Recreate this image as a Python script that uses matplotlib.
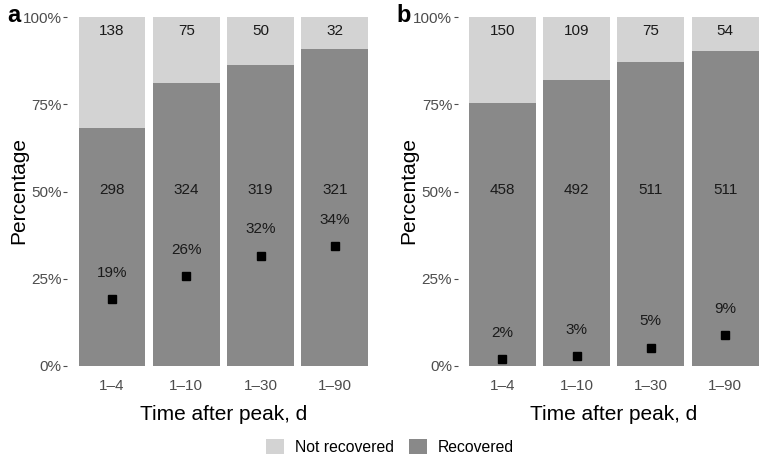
import matplotlib
matplotlib.use("Agg")
import matplotlib.pyplot as plt
from matplotlib.patches import Patch
import numpy as np

plt.rcParams['font.family'] = ['Liberation Sans', 'DejaVu Sans']

# Data
periods = ["1\u20134", "1\u201310", "1\u201330", "1\u201390"]

a_not_recovered = [138, 75, 50, 32]
a_recovered = [298, 324, 319, 321]
a_point = [0.19, 0.258, 0.316, 0.344]

b_not_recovered = [150, 109, 75, 54]
b_recovered = [458, 492, 511, 511]
b_point = [0.019, 0.028, 0.052, 0.088]

light = "#d3d3d3"
dark = "#898989"

W, H = 759, 457
fig = plt.figure(figsize=(W / 100, H / 100), dpi=100)


def draw_panel(left_px, not_rec, rec, points, letter):
    ax = fig.add_axes([left_px / W, (H - 383.1) / H, 312 / W, 383.2 / H])
    x = np.arange(len(periods))
    not_rec = np.array(not_rec, dtype=float)
    rec = np.array(rec, dtype=float)
    total = not_rec + rec
    rec_frac = rec / total
    not_frac = not_rec / total
    ax.bar(x, rec_frac, width=0.9, color=dark, linewidth=0)
    ax.bar(x, not_frac, bottom=rec_frac, width=0.9, color=light, linewidth=0)
    for i in range(len(x)):
        ax.text(x[i], 0.962, str(int(not_rec[i])), ha="center", va="center",
                fontsize=11, color="#1a1a1a")
        ax.text(x[i], 0.505, str(int(rec[i])), ha="center", va="center",
                fontsize=11, color="#1a1a1a")
    ax.plot(x, points, linestyle="none", marker="s", markersize=5.5, color="black")
    for i in range(len(x)):
        ax.text(x[i], points[i] + 0.075, "{}%".format(int(round(points[i] * 100))),
                ha="center", va="center", fontsize=11, color="#1a1a1a")

    ax.set_xlim(-0.6, len(x) - 0.4)
    ax.set_ylim(-0.05, 1.05)
    ax.set_xticks(x)
    ax.set_xticklabels(periods)
    ax.set_yticks([0, 0.25, 0.5, 0.75, 1.0])
    ax.set_yticklabels(["0%", "25%", "50%", "75%", "100%"])
    ax.tick_params(axis="x", length=0, pad=-3, labelsize=11, labelcolor="#4d4d4d")
    ax.tick_params(axis="y", length=3, width=0.8, color="#4d4d4d", pad=1,
                   labelsize=11, labelcolor="#4d4d4d")
    for s in ax.spines.values():
        s.set_visible(False)

    cx = (left_px + 156) / W
    fig.text(cx, 1 - 414 / H, "Time after peak, d", ha="center", va="center",
             fontsize=15, color="black")
    fig.text((left_px - 49) / W, 1 - 191 / H, "Percentage", ha="center", va="center",
             rotation=90, fontsize=15, color="black")
    fig.text((left_px - 54) / W, 1 - 16 / H, letter, ha="center", va="center",
             fontsize=17, fontweight="bold", color="black")
    return ax


draw_panel(67.4, a_not_recovered, a_recovered, a_point, "a")
draw_panel(457.7, b_not_recovered, b_recovered, b_point, "b")

handles = [Patch(facecolor=light, edgecolor="none", label="Not recovered"),
           Patch(facecolor=dark, edgecolor="none", label="Recovered")]
fig.legend(handles=handles, loc="center", bbox_to_anchor=(390 / W, 1 - 447 / H),
           ncol=2, frameon=False, fontsize=11.3, handlelength=1.1, handleheight=1.1,
           handletextpad=0.7, columnspacing=1.0)

fig.savefig("out.png", dpi=100)
